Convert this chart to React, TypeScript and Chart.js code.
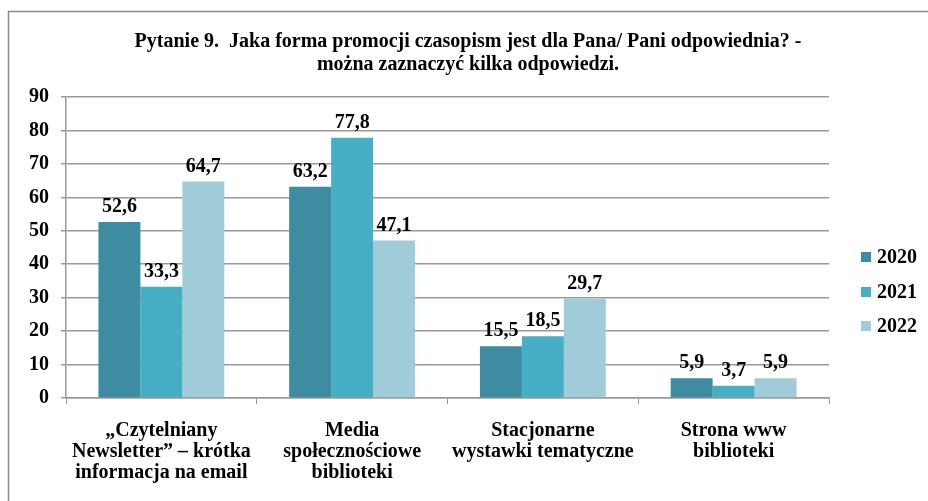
import React, { useEffect, useRef } from "react";
import { Chart, registerables } from "chart.js";

Chart.register(...registerables);

const categories: string[][] = [
  ["„Czytelniany", "Newsletter” – krótka", "informacja na email"],
  ["Media", "społecznościowe", "biblioteki"],
  ["Stacjonarne", "wystawki tematyczne"],
  ["Strona www", "biblioteki"],
];
const seriesNames = ["2020", "2021", "2022"];
const values2020 = [52.6, 63.2, 15.5, 5.9];
const values2021 = [33.3, 77.8, 18.5, 3.7];
const values2022 = [64.7, 47.1, 29.7, 5.9];
const seriesColors = ["#3D8CA2", "#46AFC6", "#9FCCD8"];
const titleLines = [
  "Pytanie 9.  Jaka forma promocji czasopism jest dla Pana/ Pani odpowiednia? -",
  "można zaznaczyć kilka odpowiedzi.",
];
const yTicks = { min: 0, max: 90, step: 10 };

const FONT = "'Liberation Serif', 'Times New Roman', serif";

const decorPlugin = {
  id: "decor",
  beforeDraw(chart: any) {
    const ctx = chart.ctx;
    ctx.save();
    ctx.strokeStyle = "#8a8a8a";
    ctx.lineWidth = 1.5;
    ctx.strokeRect(8.5, 11.5, 1000, 1000);
    ctx.restore();
  },
  afterDraw(chart: any) {
    const ctx = chart.ctx;
    ctx.save();
    // title
    ctx.fillStyle = "#000";
    ctx.font = `bold 20px ${FONT}`;
    ctx.textAlign = "center";
    ctx.textBaseline = "middle";
    ctx.fillText(titleLines[0], 468, 42);
    ctx.fillText(titleLines[1], 468, 65);
    // data labels
    ctx.font = `bold 20px ${FONT}`;
    ctx.textBaseline = "bottom";
    chart.data.datasets.forEach((ds: any, di: number) => {
      const meta = chart.getDatasetMeta(di);
      meta.data.forEach((bar: any, i: number) => {
        const v = ds.data[i];
        const txt = v.toFixed(1).replace(".", ",");
        ctx.fillText(txt, bar.x, bar.y - 5);
      });
    });
    // legend
    ctx.font = `bold 20px ${FONT}`;
    ctx.textAlign = "left";
    ctx.textBaseline = "middle";
    const ys = [257, 292, 326];
    chart.data.datasets.forEach((ds: any, di: number) => {
      ctx.fillStyle = ds.backgroundColor;
      ctx.fillRect(861, ys[di] - 5, 10, 10);
      ctx.fillStyle = "#000";
      ctx.fillText(ds.label, 877, ys[di] + 1);
    });
    ctx.restore();
  },
};

export default function App() {
  const ref = useRef<HTMLCanvasElement>(null);
  useEffect(() => {
    if (!ref.current) return;
    const mk = (label: string, data: number[], color: string) => ({
      label,
      data,
      backgroundColor: color,
      borderWidth: 0,
      barPercentage: 1,
      categoryPercentage: 0.66,
    });
    const chart = new Chart(ref.current, {
      type: "bar",
      data: {
        labels: categories,
        datasets: [
          mk(seriesNames[0], values2020, seriesColors[0]),
          mk(seriesNames[1], values2021, seriesColors[1]),
          mk(seriesNames[2], values2022, seriesColors[2]),
        ],
      },
      options: {
        animation: false,
        responsive: false,
        maintainAspectRatio: false,
        devicePixelRatio: 1,
        layout: { padding: { top: 97, left: 0, right: 99, bottom: 0 } },
        plugins: {
          legend: { display: false },
          title: { display: false },
          tooltip: { enabled: false },
        },
        scales: {
          x: {
            grid: {
              display: true,
              drawOnChartArea: false,
              drawTicks: true,
              tickLength: 6,
              color: "#999",
              offset: true,
            },
            border: { color: "#999", width: 1.5 },
            ticks: {
              color: "#000",
              font: { family: FONT, size: 20, weight: "bold", lineHeight: 1.03 },
              padding: 17,
              maxRotation: 0,
              autoSkip: false,
            },
            afterFit: (s: any) => {
              s.height = 103;
            },
          },
          y: {
            min: yTicks.min,
            max: yTicks.max,
            grid: {
              color: "#999",
              lineWidth: 1.5,
              tickLength: 5,
            },
            border: { color: "#999", width: 1.5 },
            ticks: {
              stepSize: yTicks.step,
              color: "#000",
              font: { family: FONT, size: 20, weight: "bold" },
              padding: 12,
            },
            afterFit: (s: any) => {
              s.width = 66;
            },
          },
        },
      } as any,
      plugins: [decorPlugin],
    });
    return () => chart.destroy();
  }, []);
  return (
    <div style={{ position: "absolute", left: 0, top: 0, width: 928, height: 501, background: "#fff" }}>
      <canvas ref={ref} width={928} height={501} style={{ width: 928, height: 501 }} />
    </div>
  );
}
